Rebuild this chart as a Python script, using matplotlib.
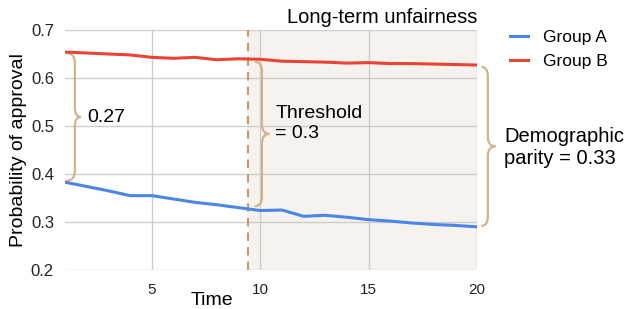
import matplotlib.pyplot as plt
from matplotlib.path import Path
from matplotlib.patches import PathPatch

plt.rcParams['font.family'] = ['Liberation Sans', 'DejaVu Sans']

time = list(range(1, 21))
group_a = [0.383, 0.374, 0.365, 0.355, 0.355, 0.348, 0.341, 0.336, 0.330, 0.324,
           0.325, 0.312, 0.314, 0.310, 0.305, 0.302, 0.298, 0.295, 0.293, 0.290]
group_b = [0.654, 0.652, 0.650, 0.648, 0.643, 0.641, 0.643, 0.638, 0.640, 0.639,
           0.635, 0.634, 0.633, 0.631, 0.632, 0.630, 0.630, 0.629, 0.628, 0.627]
threshold_time = 9.45

BLUE = '#4a86e8'
RED = '#ea4335'
TAN = '#d2b48c'


def brace(ax, x0, xs, xt, y_top, y_bot, r=0.02):
    ym = (y_top + y_bot) / 2
    verts = [(x0, y_top), (xs, y_top), (xs, y_top - r),
             (xs, ym + r), (xs, ym), (xt, ym),
             (xs, ym), (xs, ym - r),
             (xs, y_bot + r), (xs, y_bot), (x0, y_bot)]
    codes = [Path.MOVETO, Path.CURVE3, Path.CURVE3,
             Path.LINETO, Path.CURVE3, Path.CURVE3,
             Path.CURVE3, Path.CURVE3,
             Path.LINETO, Path.CURVE3, Path.CURVE3]
    ax.add_patch(PathPatch(Path(verts, codes), fill=False, ec=TAN, lw=1.6,
                           clip_on=False, zorder=4))


fig = plt.figure(figsize=(6.26, 3.09), dpi=100)
ax = fig.add_axes([0.104, 0.126, 0.658, 0.777])

ax.axvspan(threshold_time, 20, color='#f6f3ee', zorder=0)
ax.axvline(threshold_time, color='#c49a6c', lw=1.5, ls=(0, (4, 3)), zorder=3)

ax.plot(time, group_a, color=BLUE, lw=2.2, label='Group A', zorder=5)
ax.plot(time, group_b, color=RED, lw=2.2, label='Group B', zorder=5)

ax.set_xlim(1, 20)
ax.set_ylim(0.2, 0.7)
ax.set_xticks([5, 10, 15, 20])
ax.set_yticks([0.2, 0.3, 0.4, 0.5, 0.6, 0.7])
ax.set_yticklabels(['0.2', '0.3', '0.4', '0.5', '0.6', '0.7'])
ax.grid(True, color='#d0ccc8', lw=1, zorder=1)
ax.set_axisbelow(True)
for s in ax.spines.values():
    s.set_visible(False)
ax.tick_params(length=0, colors='#222222')
ax.tick_params(axis='x', pad=9, labelsize=11)
ax.tick_params(axis='y', pad=8, labelsize=12)

ax.set_ylabel('Probability of approval', fontsize=14, labelpad=3)
ax.set_xlabel('Time', fontsize=14, va='center')
ax.xaxis.set_label_coords(0.357, -0.125)
ax.set_title('Long-term unfairness', loc='right', fontsize=14.5, pad=5)

# braces and annotations
brace(ax, 1.05, 1.45, 1.72, 0.652, 0.386)
ax.text(2.0, 0.517, '0.27', fontsize=14, va='center')

brace(ax, 9.75, 10.08, 10.42, 0.634, 0.333)
ax.text(10.7, 0.505, 'Threshold\n= 0.3', fontsize=14, va='center', linespacing=1.25)

brace(ax, 20.2, 20.5, 20.85, 0.623, 0.292)
ax.text(21.25, 0.455, 'Demographic\nparity = 0.33', fontsize=14.5, va='center',
        linespacing=1.2, clip_on=False)

fig.legend(loc='upper left', bbox_to_anchor=(0.79, 0.955), frameon=False,
           fontsize=12.5, handlelength=1.0, handletextpad=0.9, labelspacing=0.55)

fig.savefig('out.png', dpi=100)
